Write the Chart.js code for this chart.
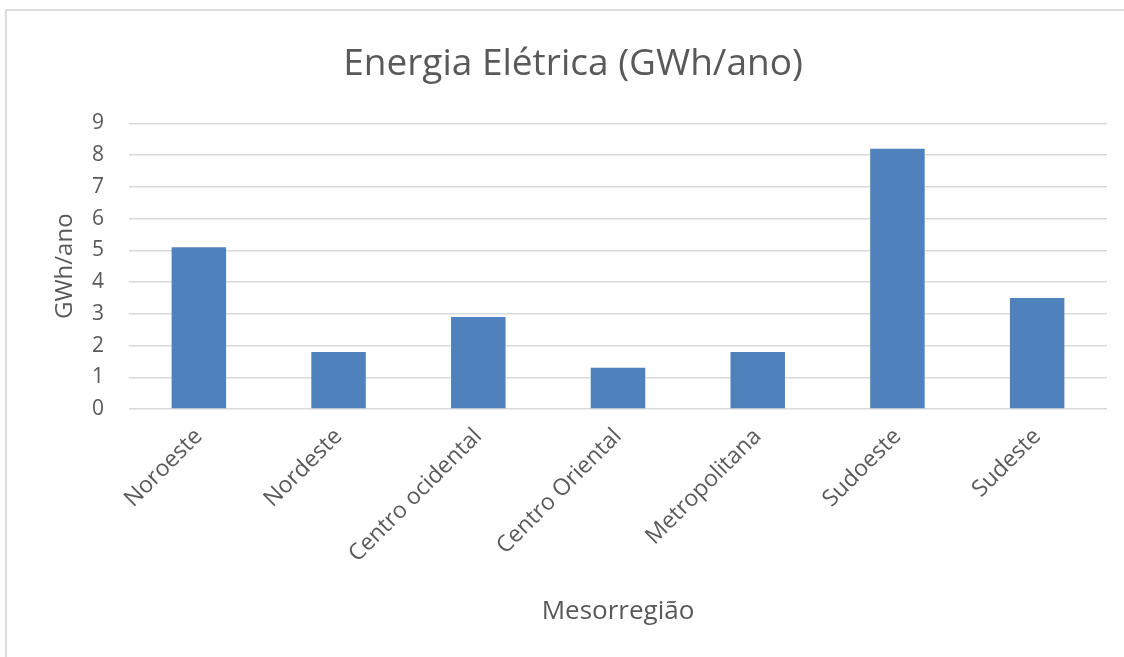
<!DOCTYPE html>
<html>
<head>
<meta charset="utf-8">
<script src="https://cdn.jsdelivr.net/npm/chart.js@4/dist/chart.umd.min.js"></script>
<style>
  html, body { margin: 0; padding: 0; background: #fff; overflow: hidden; }
  #frame {
    position: absolute; left: 5px; top: 9px;
    width: 1132px; height: 648px;
    border-left: 2px solid #dcdcdc; border-top: 2px solid #dcdcdc;
  }
</style>
</head>
<body>
<div id="frame"><canvas id="grafico" width="1132" height="648"></canvas></div>
<script>
// dados
const regioes = ["Noroeste", "Nordeste", "Centro ocidental", "Centro Oriental", "Metropolitana", "Sudoeste", "Sudeste"];
const energia = [5.1, 1.8, 2.9, 1.3, 1.8, 8.2, 3.5];
const ticksY = [0, 1, 2, 3, 4, 5, 6, 7, 8, 9];

const cinza = "#595959";
const fonte = "'Open Sans', 'Noto Sans', sans-serif";

const context = document.querySelector('#grafico').getContext("2d");

const chart = new Chart(context, {
    type: "bar",
    data: {
        labels: regioes,
        datasets: [
            {
                label: "Energia Elétrica",
                data: energia,
                backgroundColor: "#4f81bd",
                borderColor: "#4f81bd",
                borderWidth: 0,
                categoryPercentage: 1,
                barPercentage: 0.39,
            },
        ],
    },
    options: {
        responsive: false,
        animation: false,
        layout: {
            padding: 0,
        },
        scales: {
            x: {
                grid: { display: false, drawTicks: false },
                border: { display: false },
                ticks: {
                    color: cinza,
                    font: { family: fonte, size: 23 },
                    maxRotation: 45,
                    minRotation: 45,
                    padding: 14,
                },
                title: {
                    display: true,
                    text: "Mesorregião",
                    color: cinza,
                    font: { family: fonte, size: 26 },
                    padding: { top: 0, bottom: 32 },
                },
                afterFit: (scale) => { scale.height = 250; },
            },
            y: {
                min: 0,
                max: 9,
                afterBuildTicks: (scale) => { scale.ticks = ticksY.map(v => ({ value: v })); },
                grid: { color: "#d9d9d9", lineWidth: 1.5, drawTicks: false },
                border: { display: false },
                ticks: {
                    color: cinza,
                    font: { family: fonte, size: 21 },
                    padding: 25,
                },
                title: {
                    display: true,
                    text: "GWh/ano",
                    color: cinza,
                    font: { family: fonte, size: 24 },
                    padding: { top: 44, bottom: 0 },
                },
                afterFit: (scale) => { scale.width = 122; },
            },
            // eixo vazio à direita, só para reservar a margem
            margemDireita: {
                position: "right",
                grid: { display: false, drawTicks: false },
                border: { display: false },
                ticks: { display: false },
                afterFit: (scale) => { scale.width = 32; },
            },
        },
        plugins: {
            legend: { display: false },
            tooltip: { enabled: false },
            title: {
                display: true,
                text: "Energia Elétrica (GWh/ano)",
                color: cinza,
                font: { family: fonte, size: 37, weight: "normal" },
                padding: { top: 31, bottom: 37 },
            },
        },
    }
});
</script>
</body>
</html>
